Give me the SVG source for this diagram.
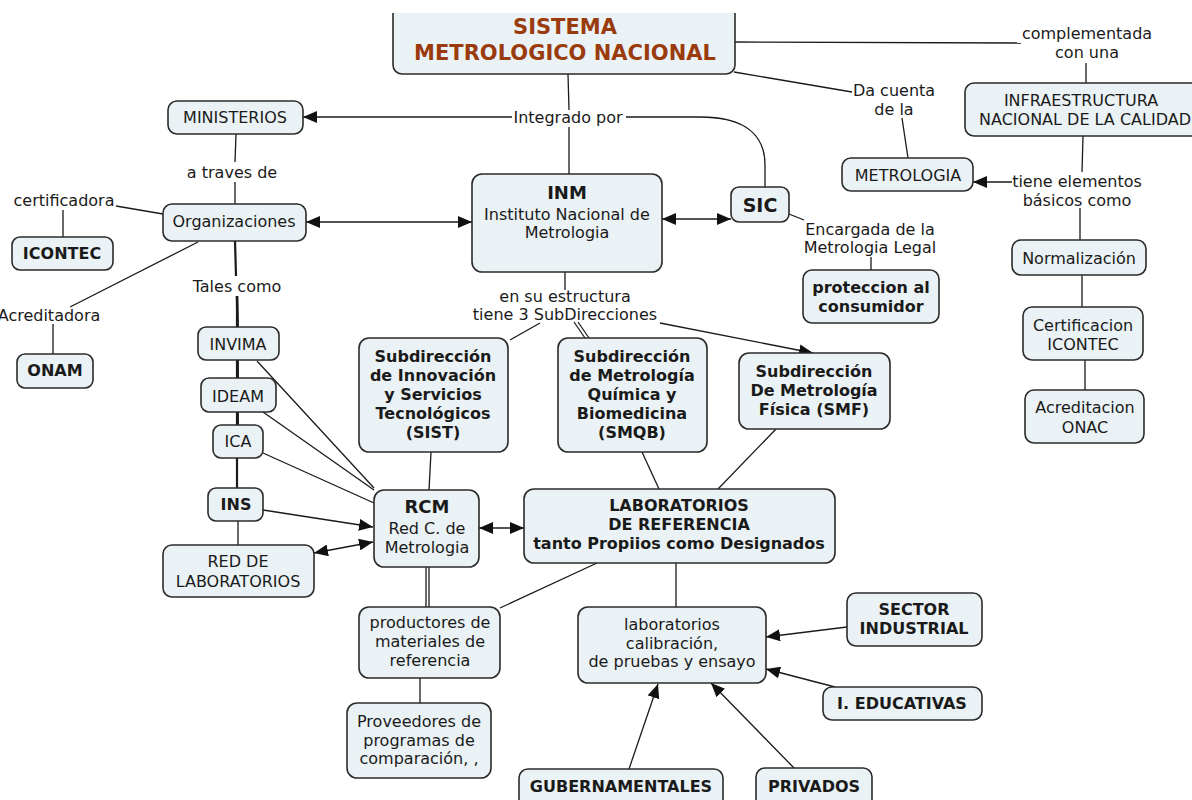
<svg xmlns="http://www.w3.org/2000/svg" width="1192" height="800" viewBox="0 0 1192 800">
<style>
.n rect{fill:#eaf2f5;stroke:#2b2b2b;stroke-width:1.6}
text{font-family:"DejaVu Sans",Verdana,sans-serif;font-size:16px;fill:#1a1a1a;text-anchor:middle}
.b{font-weight:bold}
.big{font-size:18px}
.ttl{font-size:21px;font-weight:bold;fill:#9a3b0e}
.c path{stroke:#1a1a1a;stroke-width:1.3;fill:none}
.c .thick{stroke-width:2.2}
.c .a{marker-end:url(#ah)}
.c .aa{marker-end:url(#ah);marker-start:url(#ah)}
</style>
<defs>
<marker id="ah" viewBox="0 0 14 12" refX="14" refY="6" markerWidth="14" markerHeight="12" markerUnits="userSpaceOnUse" orient="auto-start-reverse"><path d="M0,0 L14,6 L0,12 z" fill="#111"/></marker>
<clipPath id="topclip"><rect x="0" y="13" width="1192" height="787"/></clipPath>
</defs>
<rect width="1192" height="800" fill="#fff"/>
<g class="c" id="connectors">
<path d="M568,74 L569,110"/>
<path d="M569,127 L569,174"/>
<path class="a" d="M512,117 L303,117"/>
<path d="M626,117 L700,117 C745,117 765,135 765,165 L765,187"/>
<path d="M734,42 L1021,43"/>
<path d="M1086,63 L1086,83"/>
<path d="M734,72 L852,92"/>
<path d="M902,118 L908,158"/>
<path d="M1083,136 L1082,172"/>
<path class="a" d="M1012,182 L973,182"/>
<path d="M1080,208 L1080,240"/>
<path d="M1082,275 L1082,307"/>
<path d="M1085,360 L1085,390"/>
<path d="M236,134 L235,162"/>
<path d="M235,182 L235,204"/>
<path class="aa" d="M306,222 L472,222"/>
<path class="aa" d="M662,219 L731,219"/>
<path d="M789,214 L804,220"/>
<path d="M871,257 L871,270"/>
<path d="M163,214 L116,206"/>
<path d="M63,210 L63,237"/>
<path d="M198,242 L70,307"/>
<path d="M53,324 L53,354"/>
<path class="thick" d="M235,241 L236,276"/>
<path class="thick" d="M237,296 L238,340"/>
<path class="thick" d="M237,296 L238,395"/>
<path class="thick" d="M237,296 L238,440"/>
<path class="thick" d="M237,296 L237,505"/>
<path d="M238,521 L238,545"/>
<path d="M257,361 L374,488"/>
<path d="M263,412 L374,490"/>
<path d="M263,453 L374,503"/>
<path class="a" d="M263,510 L373,527"/>
<path class="aa" d="M314,553 L373,542"/>
<path d="M565,272 L565,290"/>
<path d="M540,323 L510,340"/>
<path d="M574,322 L585,338"/>
<path d="M578,322 L589,338"/>
<path class="a" d="M660,323 L813,353"/>
<path d="M431,452 L429,490"/>
<path d="M642,452 L659,489"/>
<path d="M776,429 L718,489"/>
<path class="aa" d="M479,528 L524,528"/>
<path d="M426,567 L426,607"/>
<path d="M429,567 L429,607"/>
<path d="M597,563 L500,608"/>
<path d="M420,678 L420,703"/>
<path d="M676,563 L676,607"/>
<path class="a" d="M847,627 L766,637"/>
<path class="a" d="M835,687 L766,669"/>
<path class="a" d="M629,769 L658,684"/>
<path class="a" d="M795,769 L711,683"/>
</g>
<g id="labels">
<text x="568" y="123">Integrado por</text>
<text x="232" y="178">a traves de</text>
<text x="64" y="206">certificadora</text>
<text x="49" y="321">Acreditadora</text>
<text x="237" y="292">Tales como</text>
<text x="894" y="96">Da cuenta</text>
<text x="894" y="115">de la</text>
<text x="1087" y="39">complementada</text>
<text x="1087" y="58">con una</text>
<text x="1077" y="187">tiene elementos</text>
<text x="1077" y="206">básicos como</text>
<text x="870" y="235">Encargada de la</text>
<text x="870" y="253">Metrologia Legal</text>
<text x="565" y="302">en su estructura</text>
<text x="565" y="320">tiene 3 SubDirecciones</text>
</g>
<g class="n" id="titulo" clip-path="url(#topclip)"><rect x="393" y="0" width="342" height="74" rx="9"/><text class="ttl" x="565" y="34">SISTEMA</text><text class="ttl" x="565" y="60">METROLOGICO NACIONAL</text></g>
<g class="n" id="ministerios"><rect x="168" y="101" width="135" height="33" rx="9"/><text x="235" y="123">MINISTERIOS</text></g>
<g class="n" id="organizaciones"><rect x="163" y="204" width="143" height="37" rx="9"/><text x="234" y="227">Organizaciones</text></g>
<g class="n" id="icontec"><rect x="12" y="237" width="101" height="33" rx="8"/><text class="b" x="62" y="259">ICONTEC</text></g>
<g class="n" id="onam"><rect x="17" y="354" width="76" height="34" rx="8"/><text class="b" x="55" y="376">ONAM</text></g>
<g class="n" id="invima"><rect x="198" y="327" width="81" height="33" rx="8"/><text x="238" y="350">INVIMA</text></g>
<g class="n" id="ideam"><rect x="201" y="378" width="75" height="34" rx="8"/><text x="238" y="402">IDEAM</text></g>
<g class="n" id="ica"><rect x="213" y="425" width="50" height="33" rx="8"/><text x="238" y="447">ICA</text></g>
<g class="n" id="ins"><rect x="208" y="488" width="55" height="33" rx="8"/><text class="b" x="236" y="510">INS</text></g>
<g class="n" id="red-lab"><rect x="163" y="545" width="151" height="52" rx="9"/><text x="238" y="567">RED DE</text><text x="238" y="587">LABORATORIOS</text></g>
<g class="n" id="inm"><rect x="472" y="174" width="190" height="98" rx="10"/><text class="b big" x="567" y="199">INM</text><text x="567" y="220">Instituto Nacional de</text><text x="567" y="238">Metrologia</text></g>
<g class="n" id="sic"><rect x="731" y="187" width="58" height="35" rx="8"/><text class="b" style="font-size:19px" x="760" y="212">SIC</text></g>
<g class="n" id="metrologia"><rect x="842" y="158" width="131" height="33" rx="9"/><text x="908" y="181">METROLOGIA</text></g>
<g class="n" id="infraestructura"><rect x="965" y="83" width="240" height="53" rx="9"/><text x="1081" y="106">INFRAESTRUCTURA</text><text x="1085" y="125">NACIONAL DE LA CALIDAD</text></g>
<g class="n" id="normalizacion"><rect x="1012" y="240" width="134" height="35" rx="9"/><text x="1079" y="264">Normalización</text></g>
<g class="n" id="certificacion"><rect x="1023" y="307" width="120" height="53" rx="9"/><text x="1083" y="331">Certificacion</text><text x="1083" y="350">ICONTEC</text></g>
<g class="n" id="acreditacion"><rect x="1025" y="390" width="119" height="53" rx="9"/><text x="1085" y="413">Acreditacion</text><text x="1085" y="433">ONAC</text></g>
<g class="n" id="proteccion"><rect x="803" y="270" width="136" height="53" rx="9"/><text class="b" x="871" y="293">proteccion al</text><text class="b" x="871" y="312">consumidor</text></g>
<g class="n" id="sist"><rect x="359" y="338" width="149" height="114" rx="10"/><text class="b" x="433" y="362">Subdirección</text><text class="b" x="433" y="381">de Innovación</text><text class="b" x="433" y="400">y Servicios</text><text class="b" x="433" y="419">Tecnológicos</text><text class="b" x="433" y="438">(SIST)</text></g>
<g class="n" id="smqb"><rect x="558" y="338" width="149" height="114" rx="10"/><text class="b" x="632" y="362">Subdirección</text><text class="b" x="632" y="381">de Metrología</text><text class="b" x="632" y="400">Química y</text><text class="b" x="632" y="419">Biomedicina</text><text class="b" x="632" y="438">(SMQB)</text></g>
<g class="n" id="smf"><rect x="739" y="353" width="151" height="76" rx="10"/><text class="b" x="814" y="377">Subdirección</text><text class="b" x="814" y="396">De Metrología</text><text class="b" x="814" y="415">Física (SMF)</text></g>
<g class="n" id="rcm"><rect x="374" y="490" width="105" height="77" rx="10"/><text class="b big" x="427" y="513">RCM</text><text x="427" y="534">Red C. de</text><text x="427" y="553">Metrologia</text></g>
<g class="n" id="laboratorios-ref"><rect x="524" y="489" width="311" height="74" rx="10"/><text class="b" x="679" y="511">LABORATORIOS</text><text class="b" x="679" y="530">DE REFERENCIA</text><text class="b" x="679" y="549">tanto Propiios como Designados</text></g>
<g class="n" id="productores"><rect x="359" y="607" width="141" height="71" rx="10"/><text x="430" y="628">productores de</text><text x="430" y="647">materiales de</text><text x="430" y="666">referencia</text></g>
<g class="n" id="proveedores"><rect x="347" y="703" width="144" height="75" rx="10"/><text x="419" y="727">Proveedores de</text><text x="419" y="746">programas de</text><text x="419" y="764">comparación, ,</text></g>
<g class="n" id="laboratorios-cal"><rect x="578" y="607" width="188" height="76" rx="10"/><text x="672" y="630">laboratorios</text><text x="672" y="649">calibración,</text><text x="672" y="667">de pruebas y ensayo</text></g>
<g class="n" id="sector-industrial"><rect x="847" y="593" width="135" height="53" rx="9"/><text class="b" x="914" y="615">SECTOR</text><text class="b" x="914" y="634">INDUSTRIAL</text></g>
<g class="n" id="educativas"><rect x="823" y="687" width="159" height="33" rx="9"/><text class="b" x="902" y="709">I. EDUCATIVAS</text></g>
<g class="n" id="gubernamentales"><rect x="519" y="769" width="204" height="45" rx="9"/><text class="b" x="621" y="792">GUBERNAMENTALES</text></g>
<g class="n" id="privados"><rect x="756" y="768" width="116" height="45" rx="9"/><text class="b" x="814" y="792">PRIVADOS</text></g>
</svg>
